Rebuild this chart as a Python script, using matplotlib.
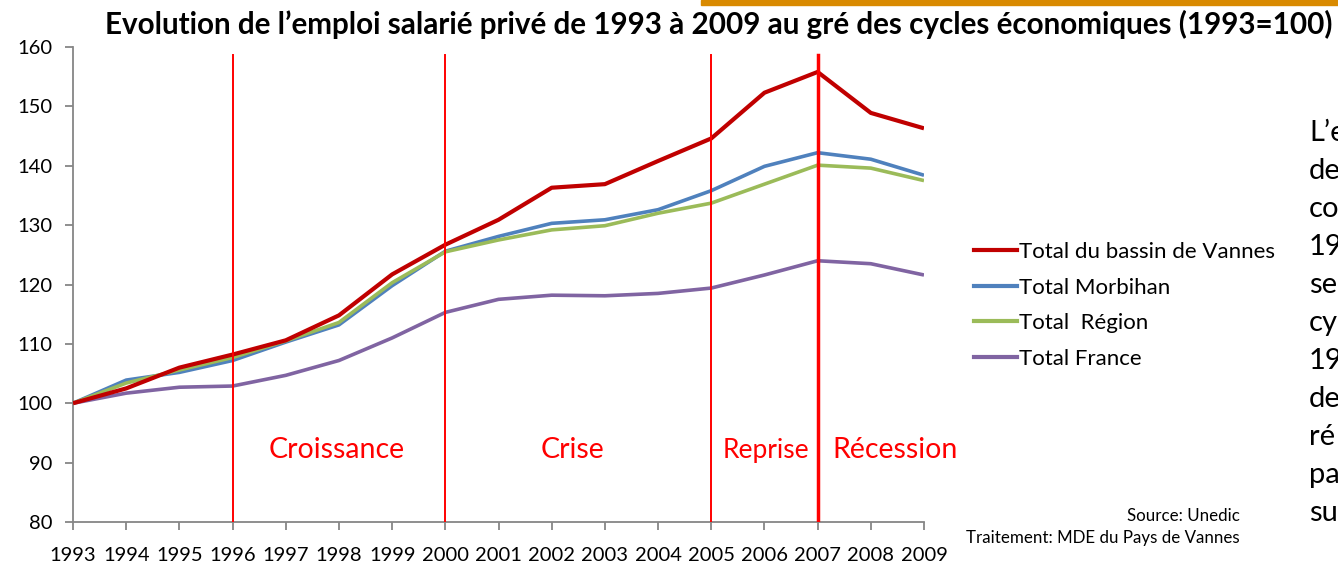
import numpy as np
import matplotlib.pyplot as plt
import matplotlib.patches as mpatches

plt.rcParams['font.family'] = ['Lato', 'DejaVu Sans']

years = list(range(1993, 2010))
vannes = [100, 102.5, 106.0, 108.2, 110.6, 114.8, 121.7, 126.7, 130.9, 136.3,
          136.9, 140.8, 144.6, 152.3, 155.8, 148.9, 146.3]
morbihan = [100, 103.9, 105.2, 107.2, 110.3, 113.2, 119.8, 125.6, 128.1, 130.3,
            130.9, 132.6, 135.8, 139.9, 142.2, 141.1, 138.4]
region = [100, 103.4, 105.6, 107.7, 110.5, 113.6, 120.3, 125.5, 127.5, 129.2,
          129.9, 132.0, 133.7, 136.9, 140.1, 139.6, 137.5]
france = [100, 101.7, 102.7, 102.9, 104.7, 107.2, 111.0, 115.3, 117.5, 118.2,
          118.1, 118.5, 119.4, 121.6, 124.0, 123.5, 121.6]
labels = ['Total du bassin de Vannes', 'Total Morbihan', 'Total  Région', 'Total France']
colors = ['#C00000', '#4F81BD', '#9BBB59', '#8064A2']

cycle_years = [1996, 2000, 2005, 2007]
cycle_widths = [1.4, 1.4, 1.4, 2.5]
phases = ['Croissance', 'Crise', 'Reprise', 'Récession']
phase_x = [1997.95, 2002.4, 2006.02, 2008.45]
phase_size = [20.5, 20.5, 19, 20.5]

fig = plt.figure(figsize=(13.38, 5.62), dpi=100)
ax = fig.add_axes([73 / 1338, 40 / 562, (924 - 73) / 1338, (522 - 47) / 562])

series = [vannes, morbihan, region, france]
order = [3, 1, 2, 0]
for i in order:
    ax.plot(years, series[i], color=colors[i], lw=3 if i == 0 else 2.6,
            solid_capstyle='butt', zorder=3 + (i == 0), label=labels[i])

for yr, w in zip(cycle_years, cycle_widths):
    ax.plot([yr, yr], [80, 158.7], color='#FF0000', lw=w, zorder=5)

for name, x, fs in zip(phases, phase_x, phase_size):
    ax.text(x, 92.1, name, color='#FF0000', fontsize=fs, ha='center', va='center')

ax.set_xlim(1993, 2009)
ax.set_ylim(80, 160)
ax.set_yticks(range(80, 161, 10))
ax.set_xticks(years)
ax.set_xticklabels([str(y) for y in years])
for s in ['top', 'right']:
    ax.spines[s].set_visible(False)
for s in ['left', 'bottom']:
    ax.spines[s].set_color('#868686')
    ax.spines[s].set_linewidth(1.3)
ax.tick_params(axis='both', colors='#868686', labelcolor='black', labelsize=14.5,
               width=1.3, length=6)
ax.tick_params(axis='x', pad=12)
ax.tick_params(axis='y', pad=9)

handles = [plt.Line2D([], [], color=colors[i], lw=3) for i in range(4)]
fig.legend(handles, labels, loc='upper left', bbox_to_anchor=(974 / 1338, 1 - 242 / 562),
           frameon=False, fontsize=16, handlelength=1.95, handletextpad=0.08,
           labelspacing=0.7, borderaxespad=0, borderpad=0)

fig.text(719 / 1338, 1 - 24 / 562,
         "Evolution de l\u2019emploi salarié privé de 1993 à 2009 au gré des cycles économiques (1993=100)",
         ha='center', va='center', fontsize=21.3, fontweight='bold')

fig.patches.append(mpatches.Rectangle((701 / 1338, 1 - 5 / 562), 1, 5 / 562,
                                      transform=fig.transFigure, color='#D98A00'))

fig.text(1240 / 1338, 1 - 516 / 562, 'Source: Unedic', ha='right', va='center', fontsize=12.2)
fig.text(1240 / 1338, 1 - 538 / 562, 'Traitement: MDE du Pays de Vannes', ha='right',
         va='center', fontsize=12.2)

side = ['L\u2019e', 'de', 'co', '19', 'se', 'cy', '19', 'de', 'ré', 'pa', 'su']
for k, t in enumerate(side):
    fig.text(1309 / 1338, 1 - (133 + 38 * k) / 562, t, ha='left', va='center', fontsize=21)

fig.savefig('out.png', dpi=100)
